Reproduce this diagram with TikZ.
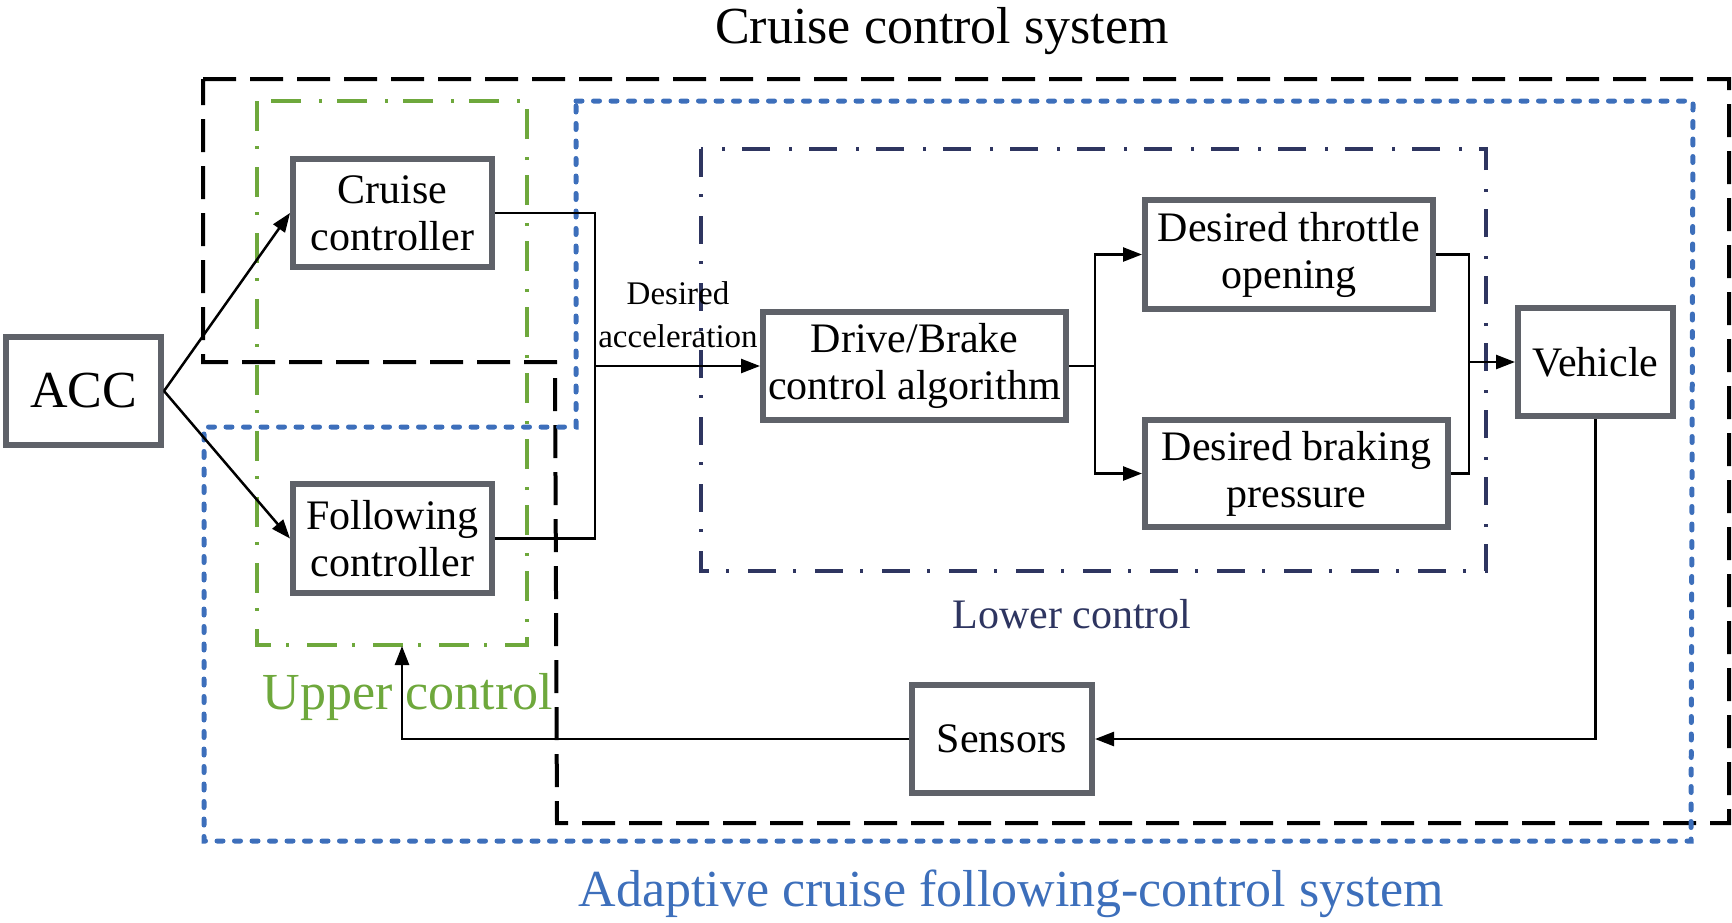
\documentclass[tikz,border=0pt]{standalone}
\usepackage{fontspec}
\setmainfont{Liberation Serif}
\usetikzlibrary{arrows.meta}
\definecolor{boxgray}{HTML}{5F6269}
\definecolor{upgreen}{HTML}{6EA83C}
\definecolor{lownavy}{HTML}{2E3560}
\definecolor{accblue}{HTML}{3D6FBB}
\begin{document}
\begin{tikzpicture}[x=1pt,y=-1pt,
  >={Triangle[length=19pt,width=14pt]},
  blk/.style={draw=boxgray,line width=6pt,fill=white,align=center,inner sep=0pt,
    font=\fontsize{42}{47}\selectfont},
  conn/.style={draw=black,line width=2.5pt},
  outerdash/.style={draw=black,line width=4pt,dash pattern=on 33pt off 14pt},
  bluedots/.style={draw=accblue,line width=5pt,dash pattern=on 6pt off 11.5pt,line cap=round},
  greendd/.style={draw=upgreen,line width=3.5pt,dash pattern=on 30pt off 15pt on 3pt off 18pt},
  navydd/.style={draw=lownavy,line width=3.5pt,dash pattern=on 28pt off 17pt on 3pt off 19pt}
]
\useasboundingbox (0,0) rectangle (1732,922);

% region outlines
\draw[outerdash] (203,79) -- (1729,79) -- (1729,823) -- (557,823) -- (555,362) -- (203,362) -- cycle;
\draw[bluedots] (576,101) -- (1693,101) -- (1691,841) -- (204,841) -- (204,427) -- (576,427) -- cycle;
\draw[greendd] (257,101) rectangle (527,645);
\draw[navydd] (701,149) rectangle (1486,571);

% blocks
\node[blk,minimum width=155pt,minimum height=108pt,font=\fontsize{52}{58}\selectfont] (acc) at (83.5,391) {ACC};
\node[blk,minimum width=199pt,minimum height=108pt] (cruise) at (392.5,213) {Cruise\\controller};
\node[blk,minimum width=199pt,minimum height=109pt] (follow) at (392.5,538.5) {Following\\controller};
\node[blk,minimum width=303pt,minimum height=108pt] (drive) at (914.5,366) {Drive/Brake\\control algorithm};
\node[blk,minimum width=288pt,minimum height=109pt] (throttle) at (1289,254.5) {Desired throttle\\opening};
\node[blk,minimum width=303pt,minimum height=107pt] (braking) at (1296.5,473.5) {Desired braking\\pressure};
\node[blk,minimum width=155pt,minimum height=108pt] (vehicle) at (1595.5,362) {Vehicle};
\node[blk,minimum width=180pt,minimum height=108pt] (sensors) at (1002,739) {Sensors};

% junction coordinates
\coordinate (j1) at (595,366);
\coordinate (j2) at (1095,366);
\coordinate (j3) at (1469,362);
\coordinate (ub) at (402,646);

% connectors
\draw[conn,->] (acc.east) -- (cruise.west);
\draw[conn,->] (acc.east) -- (follow.west);
\draw[conn] (cruise.east) -| (j1);
\draw[conn] (follow.east) -| (j1);
\draw[conn,->] (j1) -- (drive.west);
\draw[conn] (drive.east) -- (j2);
\draw[conn,->] (j2) |- (throttle.west);
\draw[conn,->] (j2) |- (braking.west);
\draw[conn] (throttle.east) -| (j3);
\draw[conn] (braking.east) -| (j3);
\draw[conn,->] (j3) -- (vehicle.west);
\draw[conn,->] (vehicle.south) |- (sensors.east);
\draw[conn,->] (sensors.west) -| (ub);

% labels
\node[align=center,inner sep=0pt,anchor=south,font=\fontsize{33}{43}\selectfont] (lbl) at (678,348) {Desired\\acceleration};
\node[anchor=base,inner sep=0pt,font=\fontsize{52}{58}\selectfont] (title) at (942,43) {Cruise control system};
\node[anchor=base,inner sep=0pt,text=upgreen,font=\fontsize{52}{58}\selectfont] (upper) at (408,709) {Upper control};
\node[anchor=base,inner sep=0pt,text=lownavy,font=\fontsize{42}{48}\selectfont] (lower) at (1072,628) {Lower control};
\node[anchor=base,inner sep=0pt,text=accblue,font=\fontsize{52}{58}\selectfont] (adaptive) at (1011,906) {Adaptive cruise following-control system};
\end{tikzpicture}
\end{document}
